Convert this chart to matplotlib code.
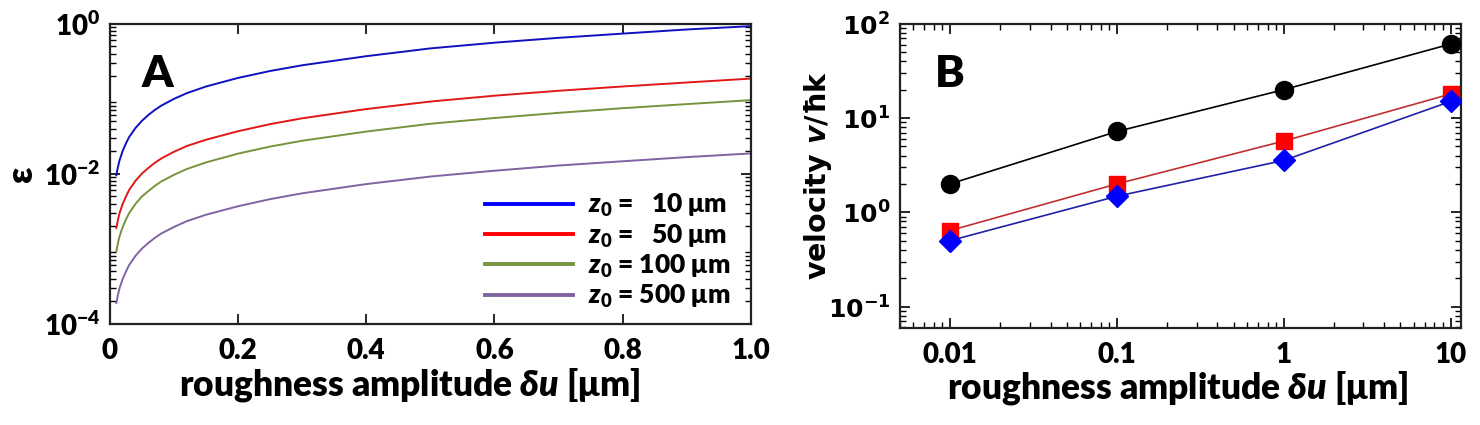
import matplotlib
matplotlib.use("Agg")
import matplotlib.pyplot as plt
from matplotlib.lines import Line2D
from matplotlib.ticker import LogLocator, FixedLocator, NullFormatter, FixedFormatter

FONT = ['Lato', 'DejaVu Sans']
plt.rcParams['font.family'] = FONT
plt.rcParams['font.weight'] = 'heavy'
plt.rcParams['axes.labelweight'] = 'heavy'
plt.rcParams['mathtext.fontset'] = 'custom'
plt.rcParams['mathtext.rm'] = 'Lato:heavy'
plt.rcParams['mathtext.bf'] = 'Lato:heavy'
plt.rcParams['mathtext.it'] = 'Lato:italic:heavy'
plt.rcParams['mathtext.fallback'] = 'stixsans'

# ---------------- Panel A data ----------------
du_a = [0.01, 0.0125, 0.015, 0.02, 0.025, 0.03, 0.04, 0.05, 0.06, 0.07, 0.08, 0.1,
        0.12, 0.15, 0.2, 0.25, 0.3, 0.4, 0.5, 0.6, 0.7, 0.8, 0.9, 1.0]
eps_z10 = [0.0096, 0.0124, 0.0152, 0.0204, 0.0255, 0.031, 0.041, 0.051, 0.061, 0.071, 0.081, 0.10,
           0.119, 0.146, 0.19, 0.235, 0.28, 0.37, 0.47, 0.56, 0.65, 0.74, 0.84, 0.93]
eps_z50 = [0.0019, 0.00245, 0.003, 0.004, 0.005, 0.0061, 0.0081, 0.0101, 0.012, 0.014, 0.016, 0.0197,
           0.0235, 0.0285, 0.037, 0.046, 0.055, 0.073, 0.092, 0.11, 0.128, 0.146, 0.165, 0.186]
eps_z100 = [0.00093, 0.0012, 0.00147, 0.00197, 0.00247, 0.003, 0.004, 0.005, 0.0059, 0.0069, 0.0079, 0.0097,
            0.0116, 0.0142, 0.0186, 0.0231, 0.0276, 0.0366, 0.0465, 0.0555, 0.065, 0.075, 0.085, 0.096]
eps_z500 = [0.00019, 0.000245, 0.0003, 0.0004, 0.0005, 0.00061, 0.00081, 0.00101, 0.0012, 0.0014, 0.0016, 0.00196,
            0.00234, 0.00285, 0.0037, 0.0046, 0.0055, 0.0073, 0.0092, 0.011, 0.0129, 0.0147, 0.0167, 0.0187]
labels_a = [r'$z_0$ =   10 μm', r'$z_0$ =   50 μm', r'$z_0$ = 100 μm', r'$z_0$ = 500 μm']
colors_a = ['#1010c0', '#e01818', '#77933c', '#8064a2']
legend_colors_a = ['#0000ff', '#ff0000', '#77933c', '#8064a2']
xticks_a = [0, 0.2, 0.4, 0.6, 0.8, 1.0]
xticklabels_a = ['0', '0.2', '0.4', '0.6', '0.8', '1.0']
yticks_a = [1e-4, 1e-2, 1e0]
yticklabels_a = [r'$10^{-4}$', r'$10^{-2}$', r'$10^{0}$']

# ---------------- Panel B data ----------------
du_b = [0.01, 0.1, 1, 10]
v_black = [2.0, 7.2, 20.0, 61.0]
v_red = [0.64, 2.0, 5.7, 18.0]
v_blue = [0.50, 1.48, 3.55, 15.0]
xticks_b = [0.01, 0.1, 1, 10]
xticklabels_b = ['0.01', '0.1', '1', '10']
yticks_b = [0.1, 1, 10, 100]
yticklabels_b = [r'$\mathbf{10^{-1}}$', r'$\mathbf{10^{0}}$', r'$\mathbf{10^{1}}$', r'$\mathbf{10^{2}}$']

fig = plt.figure(figsize=(14.8, 4.25), dpi=100)
axA = fig.add_axes([0.0743, 0.238, 0.433, 0.706])
axB = fig.add_axes([0.608, 0.228, 0.379, 0.716])

TICK_FS = 20
LABEL_FS = 25.5

def style_axes(ax):
    for s in ax.spines.values():
        s.set_linewidth(1.6)
        s.set_color('#222222')
    ax.tick_params(which='both', direction='in', top=True, right=True)
    ax.tick_params(which='major', length=7, width=1.2, labelsize=TICK_FS)
    ax.tick_params(axis='x', which='major', pad=10)
    ax.tick_params(axis='y', which='major', pad=7)
    ax.tick_params(which='minor', length=4, width=1.0)

# Panel A
for y, c in zip([eps_z10, eps_z50, eps_z100, eps_z500], colors_a):
    axA.plot(du_a, y, color=c, lw=1.4)
axA.set_yscale('log')
axA.set_xlim(0, 1.0)
axA.set_ylim(1e-4, 1e0)
axA.xaxis.set_major_locator(FixedLocator(xticks_a))
axA.xaxis.set_major_formatter(FixedFormatter(xticklabels_a))
axA.yaxis.set_major_locator(FixedLocator(yticks_a))
axA.yaxis.set_major_formatter(FixedFormatter(yticklabels_a))
axA.yaxis.set_minor_locator(LogLocator(base=10, subs=range(2, 10), numticks=20))
axA.yaxis.set_minor_formatter(NullFormatter())
style_axes(axA)
axA.set_xlabel(r'roughness amplitude $\delta u$ [μm]', fontsize=LABEL_FS)
axA.xaxis.set_label_coords(0.467, -0.14)
axA.set_ylabel('ε', fontsize=LABEL_FS, rotation=90)
axA.yaxis.set_label_coords(-0.112, 0.5)
axA.text(0.05, 0.90, 'A', transform=axA.transAxes, fontsize=32, va='top', ha='left')
handles = [Line2D([0], [0], color=c, lw=2.8) for c in legend_colors_a]
axA.legend(handles, labels_a, loc='lower right', bbox_to_anchor=(0.985, 0.01), frameon=False,
           prop={'size': 19, 'weight': 'heavy', 'family': FONT},
           handlelength=3.3, handletextpad=0.6, labelspacing=0.12, borderaxespad=0)

# Panel B
axB.plot(du_b, v_black, color='black', lw=1.2, marker='o', ms=13, mfc='black', mec='black', zorder=3)
axB.plot(du_b, v_red, color='#c03030', lw=1.2, marker='s', ms=12, mfc='#ff0000', mec='#ff0000', zorder=3)
axB.plot(du_b, v_blue, color='#2020a8', lw=1.2, marker='D', ms=11, mfc='#0000ff', mec='#0000ff', zorder=4)
axB.set_xscale('log')
axB.set_yscale('log')
axB.set_xlim(0.005, 11.5)
axB.set_ylim(0.059, 100)
axB.xaxis.set_major_locator(FixedLocator(xticks_b))
axB.xaxis.set_major_formatter(FixedFormatter(xticklabels_b))
axB.xaxis.set_minor_locator(LogLocator(base=10, subs=range(2, 10), numticks=20))
axB.xaxis.set_minor_formatter(NullFormatter())
axB.yaxis.set_major_locator(FixedLocator(yticks_b))
axB.yaxis.set_major_formatter(FixedFormatter(yticklabels_b))
axB.yaxis.set_minor_locator(LogLocator(base=10, subs=range(2, 10), numticks=20))
axB.yaxis.set_minor_formatter(NullFormatter())
style_axes(axB)
axB.tick_params(axis='y', which='major', labelsize=18)
for lab in axB.get_yticklabels():
    lab.set_math_fontfamily('dejavusans')
axB.set_xlabel(r'roughness amplitude $\delta u$ [μm]', fontsize=LABEL_FS)
axB.xaxis.set_label_coords(0.496, -0.135)
axB.set_ylabel(r'velocity $v$/ħk', fontsize=20.5, fontweight='bold',
               family=['DejaVu Sans'], math_fontfamily='dejavusans')
axB.yaxis.set_label_coords(-0.118, 0.5)
axB.text(0.063, 0.90, 'B', transform=axB.transAxes, fontsize=32, va='top', ha='left')

fig.savefig('out.png', dpi=100)
